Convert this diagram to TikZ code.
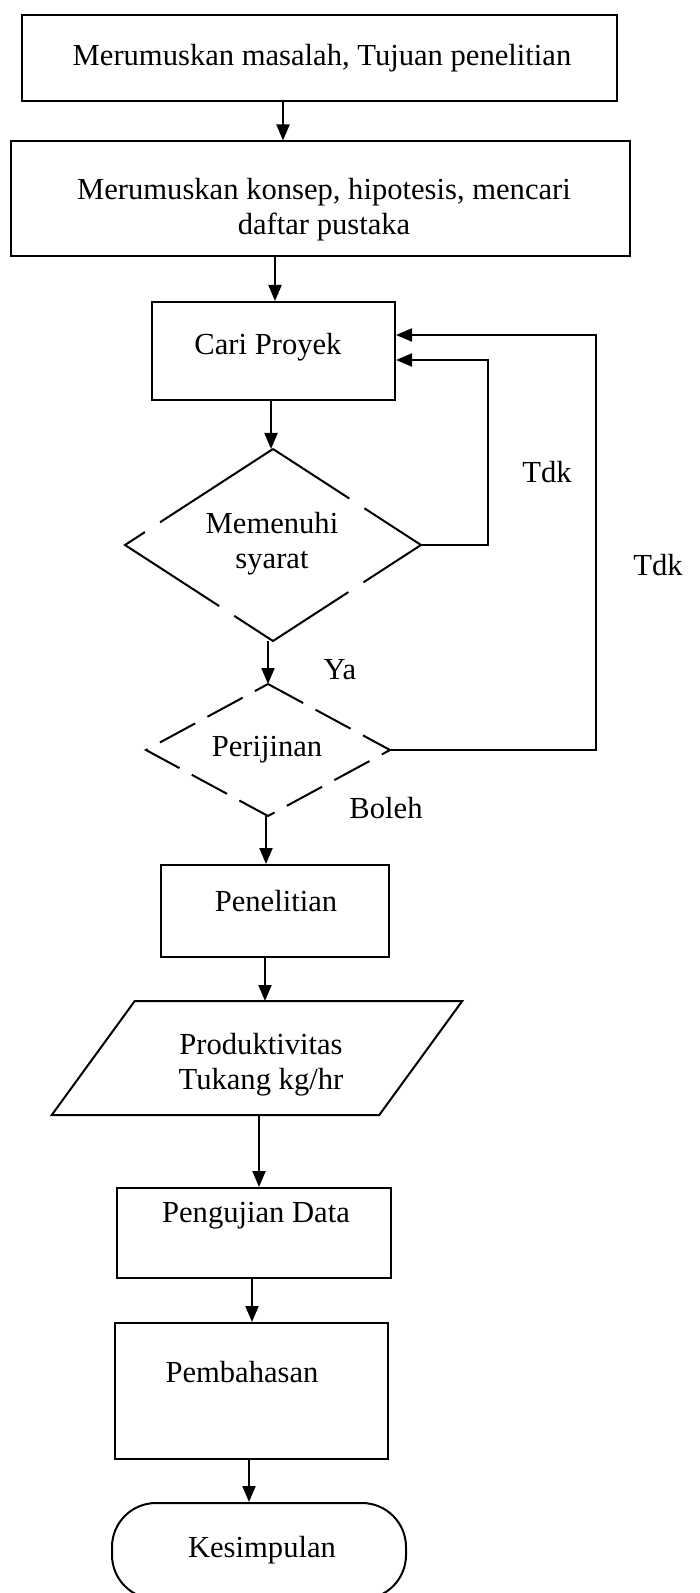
\documentclass[tikz,border=0pt]{standalone}
\usepackage{fontspec}
\setmainfont{Liberation Serif}
\usetikzlibrary{arrows.meta,shapes.geometric,calc}
\begin{document}
\begin{tikzpicture}[x=0.5pt,y=-0.5pt,
  line width=1pt,
  box/.style={draw, rectangle, inner sep=0pt},
  dec/.style={shape=diamond, draw=none, inner sep=0pt},
  term/.style={draw, rectangle, rounded corners=22pt, inner sep=0pt},
  txt/.style={font=\fontsize{15.3pt}{17.5pt}\selectfont, align=center, inner sep=0pt},
  arr/.style={-{Triangle[length=8pt,width=6.5pt]}},
  dashA/.style={dash pattern=on 68pt off 9pt, dash phase=22.5pt},
  dashB/.style={dash pattern=on 20pt off 7pt},
  ]
\useasboundingbox (0,0) rectangle (700,1593);
\fill[white] (0,0) rectangle (700,1593);

% shapes
\node[box, minimum width=297.5pt, minimum height=43pt] (b1) at (319.5,58) {};
\node[box, minimum width=309.5pt, minimum height=57.5pt] (b2) at (320.5,199) {};
\node[box, minimum width=121.5pt, minimum height=49pt] (b3) at (273.5,351) {};
\node[dec, minimum width=147pt, minimum height=95pt] (d1) at (273,545) {};
\node[dec, minimum width=121pt, minimum height=65pt] (d2) at (268,750) {};
\node[box, minimum width=114pt, minimum height=46pt] (b4) at (275,911) {};
\node[draw=none, rectangle, inner sep=0pt, minimum width=162.75pt, minimum height=56pt] (para) at (257,1058) {};
\node[box, minimum width=137pt, minimum height=45pt] (b5) at (254,1233) {};
\node[box, minimum width=136.5pt, minimum height=68pt] (b6) at (251.5,1391) {};
\node[term, minimum width=147pt, minimum height=48pt] (b7) at (259,1551) {};

% decision outlines
\draw[dashA] (d1.north) -- (d1.east) -- (d1.south) -- (d1.west) -- cycle;
\draw[dashB] (d2.north) -- (d2.east) -- (d2.south) -- (d2.west) -- cycle;
% parallelogram outline
\draw ($(para.north west)+(41.5,0)$) -- ($(para.north east)+(41.5,0)$)
   -- ($(para.south east)+(-41.5,0)$) -- ($(para.south west)+(-41.5,0)$) -- cycle;

% texts
\node[txt] (t1) at (322,58) {Merumuskan masalah, Tujuan penelitian};
\node[txt] (t2) at (324,210) {Merumuskan konsep, hipotesis, mencari\\daftar pustaka};
\node[txt] (t3) at (268,347) {Cari Proyek};
\node[txt] (t4) at (272,544) {Memenuhi\\syarat};
\node[txt] (t5) at (267,750) {Perijinan};
\node[txt] (t6) at (276,901) {Penelitian};
\node[txt] (t7) at (261,1065) {Produktivitas\\Tukang kg/hr};
\node[txt] (t8) at (256,1216) {Pengujian Data};
\node[txt] (t9) at (242,1372) {Pembahasan};
\node[txt] (t10) at (262,1550) {Kesimpulan};

% edge labels
\node[txt] (tdk1) at (547,472) {Tdk};
\node[txt] (tdk2) at (658,565) {Tdk};
\node[txt] (ya) at (340,670) {Ya};
\node[txt] (boleh) at (386,808) {Boleh};

% arrow columns
\coordinate (c1) at (283,0);
\coordinate (c2) at (275,0);
\coordinate (c3) at (271,0);
\coordinate (c4) at (268,0);
\coordinate (c5) at (266,0);
\coordinate (c6) at (265,0);
\coordinate (c7) at (259,0);
\coordinate (c8) at (252,0);
\coordinate (c9) at (249,0);

\draw[arr] (b1.south -| c1) -- (b2.north -| c1);
\draw[arr] (b2.south -| c2) -- (b3.north -| c2);
\draw[arr] (b3.south -| c3) -- (d1.north -| c3);
\draw[arr] (d1.south -| c4) -- (d2.north -| c4);
\draw[arr] (d2.south -| c5) -- (b4.north -| c5);
\draw[arr] (b4.south -| c6) -- (para.north -| c6);
\draw[arr] (para.south -| c7) -- (b5.north -| c7);
\draw[arr] (b5.south -| c8) -- (b6.north -| c8);
\draw[arr] (b6.south -| c9) -- (b7.north -| c9);

% feedback loops
\coordinate (l1) at (488,360);
\coordinate (l2) at (596,335);
\draw[arr] (d1.east) -| (l1) -- (b3.east |- l1);
\draw[arr] (d2.east) -| (l2) -- (b3.east |- l2);
\end{tikzpicture}
\end{document}
